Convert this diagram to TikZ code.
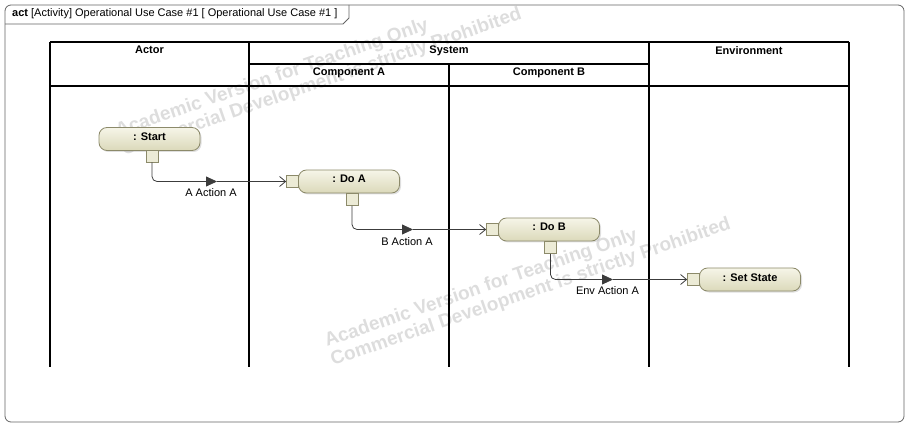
\documentclass[tikz,border=0pt]{standalone}
\usepackage{fontspec}
\setmainfont{Liberation Sans}
\usetikzlibrary{arrows.meta,positioning,shadows}
\definecolor{acttop}{RGB}{246,245,232}
\definecolor{actbot}{RGB}{219,217,186}
\definecolor{actfill}{RGB}{236,235,214}
\definecolor{actline}{RGB}{140,138,106}
\definecolor{flowgray}{RGB}{60,60,60}
\definecolor{framegray}{RGB}{100,100,100}
\definecolor{wmgray}{RGB}{221,221,221}

\begin{document}
\begin{tikzpicture}[x=1pt,y=1pt,font=\fontsize{11}{13}\selectfont,
 action/.style={draw=actline,line width=.8pt,rounded corners=8pt,top color=acttop,bottom color=actbot,minimum width=101pt,minimum height=23pt,inner sep=0pt,text height=8pt,text depth=5pt,font=\bfseries\fontsize{11}{13}\selectfont,drop shadow={shadow xshift=1.5pt,shadow yshift=-1.5pt,opacity=.25}},
 pin/.style={draw=actline,line width=.7pt,fill=actfill,minimum size=12pt,inner sep=0pt},
 lane/.style={line width=1.8pt},
 head/.style={font=\bfseries\fontsize{11}{13}\selectfont,anchor=north,inner sep=2pt},
 flow/.style={draw=flowgray,line width=.8pt,rounded corners=5pt},
 mid/.style={-{Triangle[length=11pt,width=10pt]}},
 into/.style={-{Straight Barb[length=6pt,width=10pt]}},
 wm/.style={text=wmgray,font=\bfseries\fontsize{19}{22}\selectfont,rotate=19,anchor=base west,inner sep=0pt}]
\useasboundingbox (0,0) rectangle (909,-427);
% watermark
\node[wm] (wm1a) at (118,-137) {Academic Version for Teaching Only};
\node[wm] (wm1b) at (124,-156) {Commercial Development is strictly Prohibited};
\node[wm] (wm2a) at (327,-347) {Academic Version for Teaching Only};
\node[wm] (wm2b) at (333,-366) {Commercial Development is strictly Prohibited};
% frame and title
\draw[framegray,line width=.8pt,rounded corners=6pt] (5,-5) rectangle (904,-422);
\draw[framegray,line width=.8pt] (5,-24) -- (343,-24) -- (349,-18) -- (349,-5);
\node[anchor=base west,inner sep=0pt] (title) at (12,-17) {\textbf{act} [Activity] Operational Use Case \#1 [ Operational Use Case \#1 ]};
% lanes
\draw[lane] (50,-42) -- (849,-42);
\draw[lane] (249,-64) -- (649,-64);
\draw[lane] (50,-86) -- (849,-86);
\draw[lane] (50,-42) -- (50,-367);
\draw[lane] (249,-42) -- (249,-367);
\draw[lane] (449,-64) -- (449,-367);
\draw[lane] (649,-42) -- (649,-367);
\draw[lane] (849,-42) -- (849,-367);
\node[head] (actor) at (149.5,-44) {Actor};
\node[head] (system) at (449,-44) {System};
\node[head] (compa) at (349,-66) {Component A};
\node[head] (compb) at (549,-66) {Component B};
\node[head] (env) at (749,-44) {Environment};
% actions and pins
\node[action] (start) at (149.5,-139) {: Start};
\node[pin] (startout) at (152,-156) {};
\node[action] (doa) at (349,-181.5) {: Do A};
\node[pin] (doain) at (292.5,-181.5) {};
\node[pin] (doaout) at (352,-199.5) {};
\node[action] (dob) at (549,-229.5) {: Do B};
\node[pin] (dobin) at (492.5,-229.5) {};
\node[pin] (dobout) at (550.5,-247.5) {};
\node[action] (setstate) at (750,-279.5) {: Set State};
\node[pin] (setin) at (693.5,-279.5) {};
% flows
\coordinate (ta) at (217,-181.5);
\coordinate (tb) at (413,-229.5);
\coordinate (tc) at (613,-279.5);
\draw[flow,mid] (startout.south) |- (ta);
\draw[flow,into] (ta) -- (doain.west);
\draw[flow,mid] (doaout.south) |- (tb);
\draw[flow,into] (tb) -- (dobin.west);
\draw[flow,mid] (dobout.south) |- (tc);
\draw[flow,into] (tc) -- (setin.west);
\node (la) at (211,-193) {A Action A};
\node (lb) at (407,-242) {B Action A};
\node (lc) at (607.5,-291) {Env Action A};
\end{tikzpicture}
\end{document}
